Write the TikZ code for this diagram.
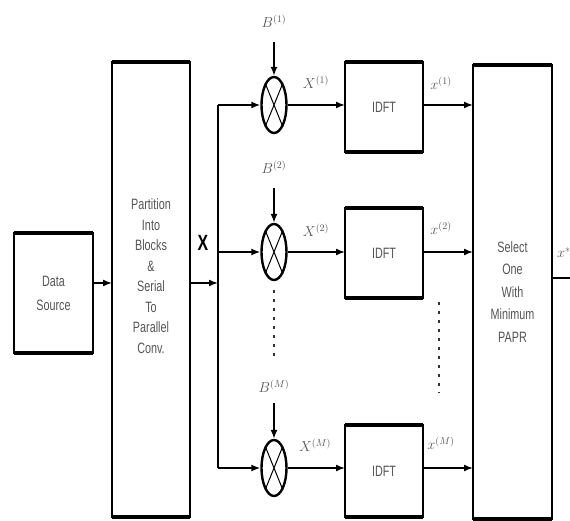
\documentclass[tikz,border=0pt]{standalone}
\usepackage{fontspec}
\setmainfont{Liberation Serif}
\newfontfamily\narrowsans[FakeStretch=0.72]{Liberation Sans}
\usetikzlibrary{arrows.meta,shapes.geometric}
\definecolor{txt}{HTML}{555555}
\tikzset{
  blk/.style={draw=black, line width=2pt, fill=white, inner sep=0pt, outer sep=0pt,
    align=center, text=txt, font=\narrowsans\fontsize{15}{20.5}\selectfont},
  btext/.style={align=center, text=txt, inner sep=0pt, font=\narrowsans\fontsize{15}{20.5}\selectfont},
  mult/.style={ellipse, draw=black, line width=2.4pt, minimum width=25pt, minimum height=56pt, inner sep=0pt},
  sig/.style={line width=1.5pt, -{Latex[length=9pt,width=7pt]}},
  wire/.style={line width=1.5pt},
  lbl/.style={text=txt, font=\fontsize{14}{15}\selectfont, inner sep=0pt},
  dots/.style={line width=2.4pt, dash pattern=on 3pt off 6pt, draw=black!80},
  thickedge/.style={line width=4pt}
}
\begin{document}
\begin{tikzpicture}[x=1pt,y=-1pt]
\useasboundingbox (0,0) rectangle (570,521);
% boxes
\node[blk, minimum width=79pt, minimum height=120pt, font=\narrowsans\fontsize{15}{24}\selectfont] (ds) at (53.5,293) {Data\\Source};
\node[blk, minimum width=78pt, minimum height=455pt] (part) at (151,289.5) {};
\node[btext] (parttxt) at (151,276) {Partition\\Into\\Blocks\\\&\\Serial\\To\\Parallel\\Conv.};
\node[blk, minimum width=78pt, minimum height=90pt] (f1) at (384,107) {IDFT};
\node[blk, minimum width=78pt, minimum height=89pt] (f2) at (384,253) {IDFT};
\node[blk, minimum width=78pt, minimum height=92pt] (f3) at (384,471) {IDFT};
\node[blk, minimum width=79pt, minimum height=454pt, font=\narrowsans\fontsize{15}{22.5}\selectfont] (sel) at (512.5,292) {Select\\One\\With\\Minimum\\PAPR};
\foreach \b in {ds,part,f1,f2,f3,sel}{
  \draw[thickedge] (\b.north west) -- (\b.north east);
  \draw[thickedge] (\b.south west) -- (\b.south east);
}
% multipliers
\node[mult] (m1) at (274,105) {};
\node[mult] (m2) at (274,252) {};
\node[mult] (m3) at (274,468) {};
\foreach \m in {m1,m2,m3}{
  \draw[line width=1pt] (\m.68) -- (\m.248);
  \draw[line width=1pt] (\m.112) -- (\m.-68);
}
% bus
\coordinate (bt) at (218,105);
\coordinate (bm) at (218,252);
\coordinate (bb) at (218,468);
\coordinate (bin) at (218,283);
\draw[sig] (ds.east |- bin) -- (part.west |- bin);
\draw[sig] (part.east |- bin) -- (bin);
\draw[wire] (bt) -- (bb);
\node[font=\narrowsans\bfseries\fontsize{22}{22}\selectfont, inner sep=0pt] (X) at (203,243) {X};
\draw[sig] (bt) -- (m1.west);
\draw[sig] (bm) -- (m2.west);
\draw[sig] (bb) -- (m3.west);
% B inputs
\node[lbl] (B1) at (274,21) {$B^{(1)}$};
\node[lbl] (B2) at (274,167) {$B^{(2)}$};
\node[lbl] (B3) at (274,386) {$B^{(M)}$};
\coordinate (b1s) at (274,42);
\coordinate (b2s) at (274,188);
\coordinate (b3s) at (274,403);
\draw[sig] (b1s) -- (m1.north);
\draw[sig] (b2s) -- (m2.north);
\draw[sig] (b3s) -- (m3.north);
% to IDFT
\draw[sig] (m1.east) -- (f1.west |- m1.east);
\draw[sig] (m2.east) -- (f2.west |- m2.east);
\draw[sig] (m3.east) -- (f3.west |- m3.east);
\node[lbl] (X1) at (316,82) {$X^{(1)}$};
\node[lbl] (X2) at (316,230) {$X^{(2)}$};
\node[lbl] (X3) at (315,445) {$X^{(M)}$};
% to select
\draw[sig] (f1.east |- m1.east) -- (sel.west |- m1.east);
\draw[sig] (f2.east |- m2.east) -- (sel.west |- m2.east);
\draw[sig] (f3.east |- m3.east) -- (sel.west |- m3.east);
\node[lbl] (x1) at (441,83) {$x^{(1)}$};
\node[lbl] (x2) at (441,228) {$x^{(2)}$};
\node[lbl] (x3) at (441,443) {$x^{(M)}$};
% output
\coordinate (out) at (572,278);
\draw[wire] (sel.east |- out) -- (out);
\node[lbl, anchor=west] (xs) at (557,253) {$x^{*}$};
% dotted
\coordinate (d1a) at (274,290);
\coordinate (d1b) at (274,356);
\coordinate (d2a) at (439,302);
\coordinate (d2b) at (439,393);
\draw[dots] (d1a) -- (d1b);
\draw[dots] (d2a) -- (d2b);
\end{tikzpicture}
\end{document}
